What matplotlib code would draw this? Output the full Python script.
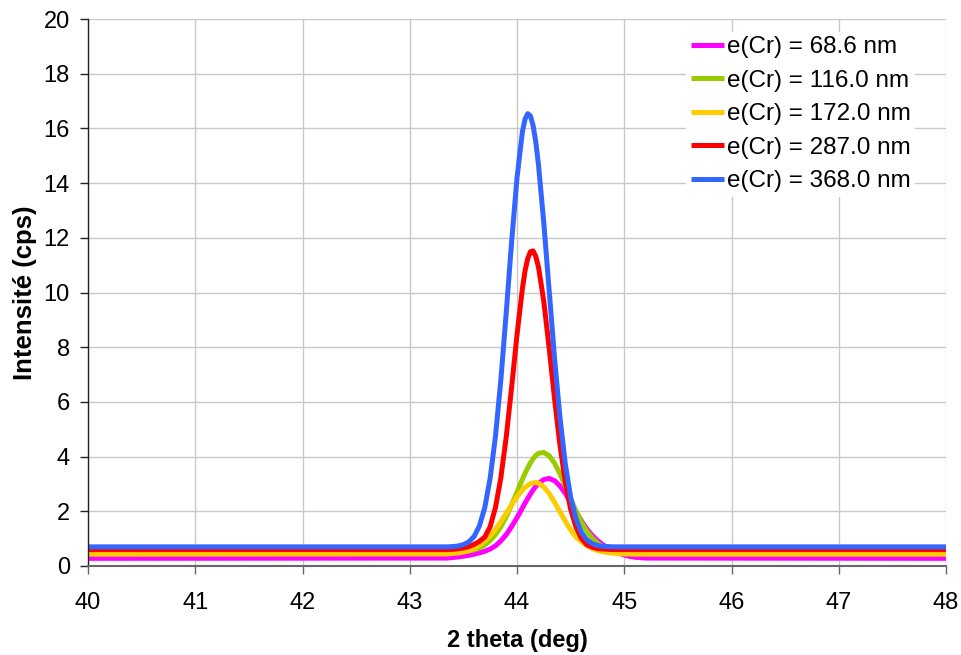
import matplotlib
matplotlib.use("Agg")
import matplotlib.pyplot as plt

plt.rcParams['font.family'] = ['Liberation Sans', 'DejaVu Sans']

two_theta = [40.00, 43.30, 43.35, 43.40, 43.45, 43.50, 43.55, 43.60, 43.65, 43.70,
             43.75, 43.80, 43.85, 43.90, 43.95, 44.00, 44.05, 44.075, 44.10, 44.125,
             44.15, 44.175, 44.20,
             44.25, 44.30, 44.35, 44.40, 44.45, 44.50, 44.55, 44.60, 44.65, 44.70,
             44.75, 44.80, 44.85, 44.90, 44.95, 45.00, 45.05, 45.10, 45.20, 48.00]

i_68_6 = [0.28, 0.29, 0.29, 0.31, 0.33, 0.36, 0.39, 0.43, 0.48, 0.54,
          0.62, 0.74, 0.92, 1.15, 1.44, 1.77, 2.12, 2.30, 2.47, 2.63,
          2.78, 2.91, 3.02,
          3.16, 3.20, 3.12, 2.93, 2.66, 2.33, 1.98, 1.65, 1.36, 1.12,
          0.93, 0.78, 0.65, 0.55, 0.47, 0.40, 0.35, 0.32, 0.29, 0.28]

i_116 = [0.50, 0.50, 0.50, 0.51, 0.51, 0.53, 0.55, 0.59, 0.66, 0.77,
         0.93, 1.15, 1.44, 1.81, 2.24, 2.70, 3.17, 3.39, 3.59, 3.77,
         3.92, 4.04, 4.12,
         4.15, 4.03, 3.76, 3.38, 2.93, 2.46, 2.01, 1.61, 1.28, 1.03,
         0.84, 0.71, 0.62, 0.57, 0.54, 0.52, 0.51, 0.50, 0.50, 0.50]

i_172 = [0.43, 0.44, 0.44, 0.46, 0.48, 0.51, 0.57, 0.64, 0.76, 0.91,
         1.11, 1.34, 1.62, 1.93, 2.24, 2.53, 2.77, 2.87, 2.95, 3.01,
         3.04, 3.05, 3.03,
         2.89, 2.65, 2.33, 1.98, 1.64, 1.32, 1.06, 0.89, 0.75, 0.64,
         0.57, 0.52, 0.49, 0.47, 0.45, 0.44, 0.44, 0.43, 0.43, 0.43]

i_287 = [0.60, 0.60, 0.60, 0.61, 0.63, 0.66, 0.71, 0.79, 0.90, 1.06,
         1.44, 2.15, 3.24, 4.73, 6.54, 8.45, 10.13, 10.79, 11.24, 11.49,
         11.52, 11.32, 10.94,
         9.67, 7.96, 6.12, 4.43, 3.08, 2.08, 1.42, 1.01, 0.78, 0.69,
         0.64, 0.62, 0.61, 0.60, 0.60, 0.60, 0.60, 0.60, 0.60, 0.60]

i_368 = [0.70, 0.70, 0.70, 0.71, 0.73, 0.78, 0.88, 1.08, 1.47, 2.14,
         3.22, 4.77, 6.83, 9.28, 11.86, 14.19, 15.87, 16.34, 16.54, 16.46,
         16.11, 15.50, 14.68,
         12.54, 10.07, 7.60, 5.46, 3.74, 2.52, 1.72, 1.23, 0.96, 0.82,
         0.75, 0.72, 0.71, 0.70, 0.70, 0.70, 0.70, 0.70, 0.70, 0.70]

labels = ["e(Cr) = 68.6 nm", "e(Cr) = 116.0 nm", "e(Cr) = 172.0 nm",
          "e(Cr) = 287.0 nm", "e(Cr) = 368.0 nm"]
series = [i_68_6, i_116, i_172, i_287, i_368]
colors = ["#FF00FF", "#99CC00", "#FFCC00", "#FF0000", "#3366FF"]

x_ticks = [40, 41, 42, 43, 44, 45, 46, 47, 48]
y_ticks = [0, 2, 4, 6, 8, 10, 12, 14, 16, 18, 20]

fig = plt.figure(figsize=(9.61, 6.55), dpi=100)
ax = fig.add_axes([88/961, 1-566/655, (946-88)/961, (566-19)/655])

for ys, lab, col in zip(series, labels, colors):
    ax.plot(two_theta, ys, color=col, lw=3.6, label=lab, solid_capstyle='butt',
            solid_joinstyle='round')

ax.set_xlim(40, 48)
ax.set_ylim(0, 20)
ax.set_xticks(x_ticks)
ax.set_yticks(y_ticks)
ax.grid(True, color='#c8c8c8', lw=1.0)
ax.set_axisbelow(True)

for s in ['top', 'right']:
    ax.spines[s].set_visible(False)
ax.spines['left'].set_color('#222222')
ax.spines['bottom'].set_color('#666666')
ax.spines['left'].set_linewidth(1.0)
ax.spines['bottom'].set_linewidth(1.5)

ax.tick_params(axis='y', direction='out', length=5.5, width=1, color='#222222',
               labelsize=17, pad=7.5)
ax.tick_params(axis='x', direction='out', length=5.5, width=1, color='#666666',
               labelsize=17, pad=13)

ax.set_xlabel("2 theta (deg)", fontsize=17, fontweight='bold', labelpad=11)
ax.set_ylabel("Intensité (cps)", fontsize=18.5, fontweight='bold', labelpad=5)

leg = ax.legend(loc='upper left', bbox_to_anchor=(0.697, 0.977), fontsize=17.5,
                frameon=True, fancybox=False, edgecolor='none', facecolor='white',
                framealpha=1.0, handlelength=1.35, handletextpad=0.12,
                labelspacing=0.47, borderpad=0.2, borderaxespad=0)

fig.savefig("out.png", dpi=100)
